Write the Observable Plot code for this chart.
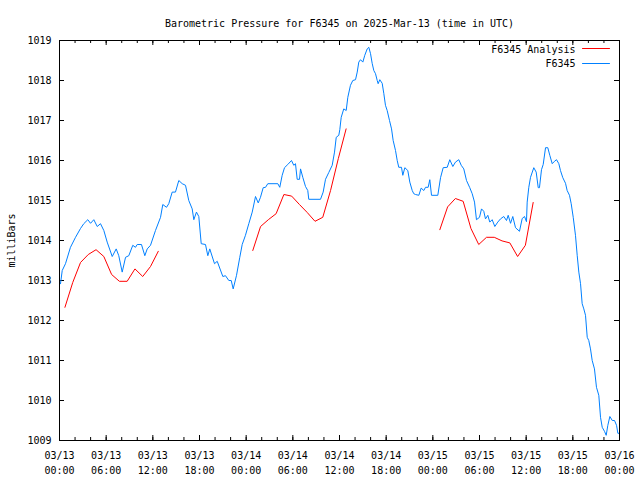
<!DOCTYPE html>
<html><head><meta charset="utf-8">
<script src="https://cdn.jsdelivr.net/npm/d3@7"></script>
<script src="https://cdn.jsdelivr.net/npm/@observablehq/plot@0.6"></script>
<style>body{margin:0;background:#fff} svg{display:block}</style>
</head><body><div id="chart"></div>
<script>
const title = "Barometric Pressure for F6345 on 2025-Mar-13 (time in UTC)";
const yLabel = "milliBars";
const seriesNames = ["F6345 Analysis", "F6345"];
const seriesColors = ["#ff0000", "#0080ff"];
const startDate = "2025-03-13T00:00:00Z";
const endDate = "2025-03-16T00:00:00Z";
const yTicks = [1009, 1010, 1011, 1012, 1013, 1014, 1015, 1016, 1017, 1018, 1019];

// Observed pressure (hours after 2025-03-13 00:00 UTC)
const obsHours = [0.13,0.35,0.77,1.41,2.06,2.70,3.12,3.64,3.99,4.41,4.85,5.27,5.70,6.13,6.78,7.29,7.62,8.06,8.49,8.91,9.42,9.77,9.99,10.54,10.97,11.28,11.70,12.34,12.99,13.28,13.76,14.05,14.49,14.91,15.34,15.78,16.20,16.62,17.06,17.27,17.61,17.91,18.22,18.77,19.07,19.32,19.93,20.28,21.00,21.34,21.77,22.08,22.33,22.76,23.18,23.49,23.91,24.34,24.78,25.20,25.55,25.84,26.19,26.49,26.78,28.07,28.32,28.63,28.93,29.35,29.83,30.12,30.34,30.56,30.86,30.99,31.28,31.63,31.92,32.05,33.56,33.90,34.20,34.62,35.06,35.36,35.58,35.91,36.04,36.22,36.55,36.86,37.07,37.41,37.71,38.06,38.28,38.48,38.70,39.00,39.25,39.56,39.77,39.99,40.20,40.41,40.63,40.85,40.97,41.18,41.49,41.70,41.91,42.13,42.43,42.69,42.90,43.20,43.42,43.62,43.97,44.14,44.40,44.78,45.04,45.35,45.55,45.77,46.20,46.50,46.84,47.06,47.40,47.61,47.83,48.64,48.99,49.33,49.85,50.18,50.57,50.91,51.34,51.65,51.98,52.33,52.75,53.06,53.36,53.61,54.00,54.26,54.55,54.77,55.07,55.32,55.63,55.97,56.35,56.70,57.12,57.47,57.69,57.99,58.28,58.63,59.14,59.49,59.79,60.04,60.13,60.34,60.56,60.98,61.29,61.55,61.71,61.97,62.19,62.49,62.78,63.04,63.35,63.64,63.90,64.20,64.41,64.71,65.06,65.27,65.57,65.79,66.05,66.34,66.56,66.77,66.99,67.20,67.41,67.63,67.85,68.05,68.27,68.49,68.78,69.04,69.34,69.56,69.78,70.07,70.29,70.50,70.76,71.07,71.36,71.62,71.79,72.00];
const obsValues = [1012.92,1013.25,1013.42,1013.83,1014.08,1014.30,1014.42,1014.52,1014.43,1014.52,1014.35,1014.42,1014.25,1013.96,1013.60,1013.79,1013.62,1013.21,1013.58,1013.62,1013.88,1013.83,1013.90,1013.90,1013.62,1013.79,1013.88,1014.25,1014.58,1014.90,1014.83,1014.92,1015.21,1015.21,1015.50,1015.42,1015.38,1015.00,1014.79,1014.52,1014.71,1014.60,1013.92,1013.90,1013.62,1013.79,1013.42,1013.48,1013.10,1013.12,1013.00,1013.00,1012.79,1013.13,1013.58,1013.90,1014.13,1014.42,1014.71,1015.10,1014.94,1015.08,1015.32,1015.33,1015.42,1015.42,1015.33,1015.63,1015.82,1015.90,1016.00,1015.88,1015.92,1015.53,1015.53,1015.79,1015.58,1015.35,1015.25,1015.03,1015.03,1015.21,1015.53,1015.70,1015.88,1016.21,1016.58,1016.63,1016.77,1017.08,1017.29,1017.25,1017.58,1017.88,1018.00,1018.02,1018.21,1018.46,1018.52,1018.46,1018.63,1018.79,1018.83,1018.67,1018.43,1018.25,1018.17,1018.00,1017.92,1018.02,1017.93,1017.67,1017.38,1017.25,1017.00,1016.79,1016.50,1016.25,1016.00,1015.83,1015.83,1015.63,1015.82,1015.75,1015.46,1015.25,1015.17,1015.15,1015.13,1015.31,1015.25,1015.33,1015.33,1015.52,1015.13,1015.13,1015.57,1015.82,1015.83,1016.02,1015.85,1015.96,1016.02,1015.88,1015.79,1015.50,1015.32,1015.17,1014.96,1014.52,1014.58,1014.79,1014.73,1014.54,1014.63,1014.46,1014.52,1014.35,1014.46,1014.54,1014.60,1014.50,1014.63,1014.43,1014.60,1014.32,1014.23,1014.55,1014.60,1014.47,1014.96,1015.33,1015.58,1015.82,1015.71,1015.32,1015.32,1015.77,1015.90,1016.32,1016.32,1016.13,1015.92,1015.98,1016.02,1015.92,1015.75,1015.57,1015.43,1015.25,1015.13,1014.92,1014.58,1014.13,1013.63,1013.21,1012.92,1012.42,1012.29,1012.13,1011.58,1011.50,1011.29,1011.00,1010.79,1010.33,1010.13,1009.58,1009.33,1009.23,1009.13,1009.38,1009.60,1009.50,1009.50,1009.38,1009.18,1009.18];

// Analysis pressure (hours after start); null separates the runs
const anaHours = [0.7,1.7,2.7,3.7,4.7,5.7,6.7,7.7,8.7,9.7,10.7,11.7,12.7, 18.0,
  24.85,25.85,26.85,27.85,28.85,29.85,30.85,31.85,32.85,33.85,34.85,35.85,36.85, 42.0,
  48.9,49.9,50.9,51.9,52.9,53.9,54.9,55.9,56.9,57.9,58.9,59.9,60.9];
const anaValues = [1012.33,1012.95,1013.45,1013.65,1013.77,1013.60,1013.15,1012.98,1012.98,1013.29,1013.10,1013.35,1013.73, null,
  1013.75,1014.35,1014.52,1014.67,1015.15,1015.11,1014.90,1014.70,1014.48,1014.58,1015.25,1016.05,1016.79, null,
  1014.27,1014.84,1015.05,1014.98,1014.30,1013.90,1014.08,1014.08,1013.99,1013.94,1013.60,1013.88,1014.95];

const t0 = new Date(startDate), t1 = new Date(endDate);
const toDate = h => new Date(+t0 + h * 3600e3);
const obs = obsHours.map((h, i) => ({t: toDate(h), p: obsValues[i]}));
const ana = anaHours.map((h, i) => ({t: toDate(h), p: anaValues[i]}));
const majorTicks = d3.utcHour.every(6).range(t0, new Date(+t1 + 1));
const minorTicks = d3.utcHour.every(2).range(t0, new Date(+t1 + 1));
const fmt = d3.utcFormat("%m/%d\n%H:%M");

const W = 640, H = 480, mL = 59, mR = 21, mT = 40, mB = 40;
const pw = W - mL - mR, ph = H - mT - mB;
const lineShape = {draw(ctx, l) { ctx.moveTo(0, 0); ctx.lineTo(0, -l); }};

const chart = Plot.plot({
  width: W, height: H,
  marginLeft: mL, marginRight: mR, marginTop: mT, marginBottom: mB,
  style: {fontFamily: "'DejaVu Sans Mono', monospace", fontSize: "10px", background: "white", color: "black"},
  x: {type: "utc", domain: [t0, t1]},
  y: {domain: [1009, 1019]},
  marks: [
    Plot.ruleX(minorTicks, {x: d => d, insetTop: ph - 3, stroke: "black"}),
    Plot.ruleX(minorTicks, {x: d => d, insetBottom: ph - 3, stroke: "black"}),
    Plot.ruleX(majorTicks, {x: d => d, insetTop: ph - 5, stroke: "black"}),
    Plot.ruleX(majorTicks, {x: d => d, insetBottom: ph - 5, stroke: "black"}),
    Plot.ruleY(yTicks, {y: d => d, insetRight: pw - 5, stroke: "black"}),
    Plot.ruleY(yTicks, {y: d => d, insetLeft: pw - 5, stroke: "black"}),
    Plot.axisX({ticks: majorTicks, tickSize: 0, tickPadding: 8, tickFormat: fmt, lineHeight: 1.5, label: null, fontSize: 10}),
    Plot.axisY({ticks: yTicks, tickSize: 0, tickPadding: 8, tickFormat: d => String(d), label: yLabel, labelAnchor: "center", labelArrow: "none", labelOffset: 52, fontSize: 10}),
    Plot.line(ana, {x: "t", y: "p", stroke: seriesColors[0], strokeWidth: 1}),
    Plot.line(obs, {x: "t", y: "p", stroke: seriesColors[1], strokeWidth: 1}),
    Plot.frame({stroke: "black"}),
    Plot.text([title], {text: d => d, frameAnchor: "top", dy: -21, fontSize: 10, fill: "black"}),
    Plot.text([seriesNames[0]], {text: d => d, frameAnchor: "top-right", textAnchor: "end", dx: -44, dy: 5, fontSize: 10, fill: "black"}),
    Plot.text([seriesNames[1]], {text: d => d, frameAnchor: "top-right", textAnchor: "end", dx: -44, dy: 19, fontSize: 10, fill: "black"}),
    Plot.vector([0], {frameAnchor: "top-right", dx: -37, dy: 8, length: 27, rotate: 90, anchor: "start", shape: lineShape, stroke: seriesColors[0], strokeWidth: 1}),
    Plot.vector([0], {frameAnchor: "top-right", dx: -37, dy: 23, length: 27, rotate: 90, anchor: "start", shape: lineShape, stroke: seriesColors[1], strokeWidth: 1})
  ]
});
document.getElementById("chart").appendChild(chart);
</script>
</body></html>
